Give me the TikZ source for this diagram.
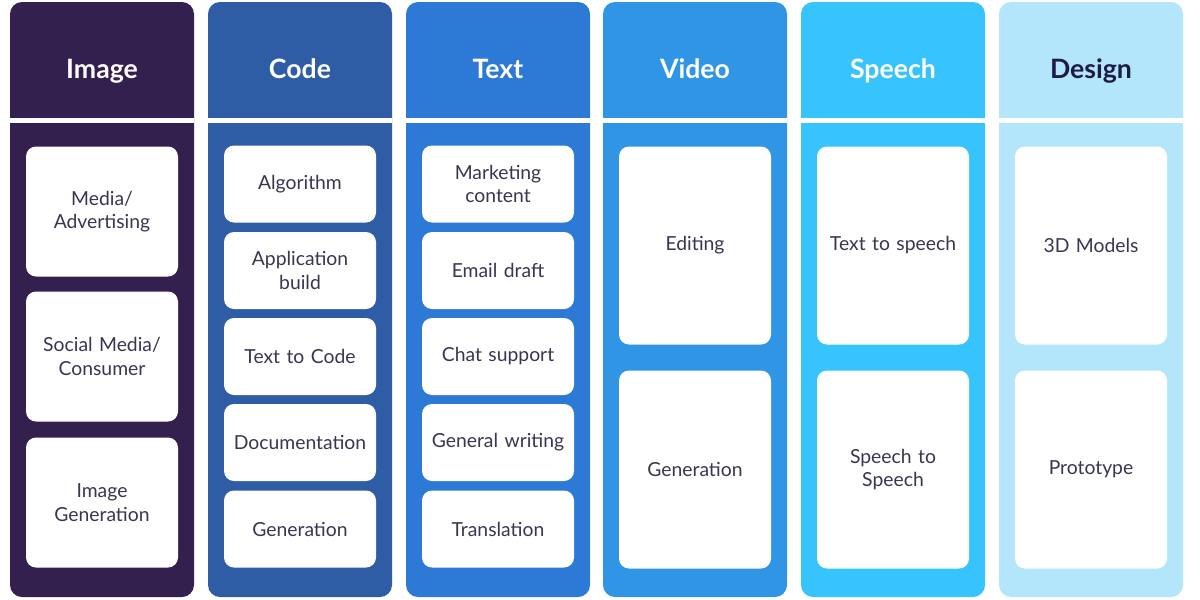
\documentclass[tikz,border=0pt]{standalone}
\usepackage{fontspec}
\setmainfont{Lato}
\definecolor{cImage}{HTML}{33204F}
\definecolor{cCode}{HTML}{2E5DA6}
\definecolor{cText}{HTML}{2D7AD6}
\definecolor{cVideo}{HTML}{3095E4}
\definecolor{cSpeech}{HTML}{37C3FB}
\definecolor{cDesign}{HTML}{B4E6FB}
\definecolor{itemtxt}{HTML}{3A3550}
\definecolor{darkhead}{HTML}{1E1A4A}
\tikzset{
  colbox/.style={rounded corners=9pt},
  head/.style={text=white, font=\fontsize{20}{24}\selectfont\bfseries, inner sep=0pt, anchor=base},
  item/.style={fill=white, rounded corners=7.5pt, minimum width=114pt, text width=110pt,
    align=center, inner sep=0pt, text=itemtxt, font=\fontsize{14.5}{17.5}\selectfont},
  short/.style={item, minimum height=57.75pt},
  mid/.style={item, minimum height=97.5pt},
  tall/.style={item, minimum height=148.5pt},
}
\begin{document}
\begin{tikzpicture}[x=0.75pt,y=-0.75pt]
\useasboundingbox (0,0) rectangle (1200,600);
\foreach \l/\c in {10/cImage,208/cCode,406/cText,603/cVideo,801/cSpeech,999/cDesign}{
  \fill[\c, colbox] (\l,2) rectangle ++(184,595);
  \fill[white] (\l,118) rectangle ++(184,5);
}
% headers
\node[head] (hImage) at (102,78) {Image};
\node[head] (hCode) at (300,78) {Code};
\node[head] (hText) at (498,78) {Text};
\node[head] (hVideo) at (695,78) {Video};
\node[head] (hSpeech) at (893,78) {Speech};
\node[head, text=darkhead] (hDesign) at (1091,78) {Design};
% Image
\node[mid] (i1) at (102,211.5) {Media/\\Advertising};
\node[mid] (i2) at (102,356.5) {Social Media/\\Consumer};
\node[mid] (i3) at (102,502.5) {Image\\Generation};
% Code
\node[short] (c1) at (300,184) {Algorithm};
\node[short] (c2) at (300,270.5) {Application\\build};
\node[short] (c3) at (300,356.5) {Text to Code};
\node[short] (c4) at (300,442.5) {Documentation};
\node[short] (c5) at (300,529) {Generation};
% Text
\node[short] (t1) at (498,184) {Marketing\\content};
\node[short] (t2) at (498,270.5) {Email draft};
\node[short] (t3) at (498,356.5) {Chat support};
\node[short] (t4) at (498,442.5) {General writing};
\node[short] (t5) at (498,529) {Translation};
% Video
\node[tall] (v1) at (695,245.5) {Editing};
\node[tall] (v2) at (695,469.5) {Generation};
% Speech
\node[tall] (s1) at (893,245.5) {Text to speech};
\node[tall] (s2) at (893,469.5) {Speech to\\Speech};
% Design
\node[tall] (d1) at (1091,245.5) {3D Models};
\node[tall] (d2) at (1091,469.5) {Prototype};
\end{tikzpicture}
\end{document}
